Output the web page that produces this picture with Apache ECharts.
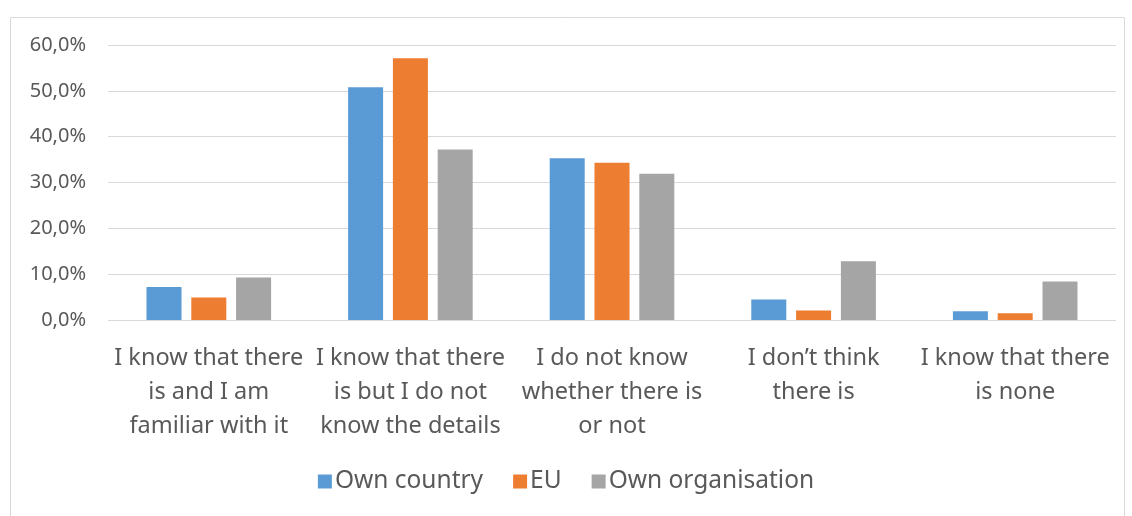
<!DOCTYPE html>
<html><head><meta charset="utf-8">
<script src="https://cdn.jsdelivr.net/npm/echarts@6/dist/echarts.min.js"></script>
<style>html,body{margin:0;padding:0;background:#fff}#c{width:1132px;height:516px}</style>
</head><body><div id="c"></div>
<script>
const categories = [
  "I know that there\nis and I am\nfamiliar with it",
  "I know that there\nis but I do not\nknow the details",
  "I do not know\nwhether there is\nor not",
  "I don\u2019t think\nthere is",
  "I know that there\nis none"
];
const ownCountry = [7.2, 50.8, 35.3, 4.5, 1.9];
const eu = [4.9, 57.1, 34.3, 2.1, 1.5];
const ownOrganisation = [9.3, 37.2, 31.9, 12.8, 8.4];
const seriesNames = ["Own country", "EU", "Own organisation"];
const colors = ["#5b9bd5", "#ed7d31", "#a5a5a5"];

const FONT = "Noto Sans";
const chart = echarts.init(document.getElementById('c'));
const mk = (name, data, color) => ({
  name, type: 'bar', data, barWidth: 35, barGap: '28%', barCategoryGap: '38%',
  itemStyle: { color }
});
chart.setOption({
  animation: false,
  textStyle: { fontFamily: FONT },
  graphic: [{
    type: 'rect', left: 8, top: 15, shape: { width: 1114, height: 510 },
    style: { fill: 'none', stroke: '#d9d9d9', lineWidth: 1 }, silent: true
  }],
  grid: { left: 108, right: 16, top: 45, bottom: 196 },
  legend: {
    bottom: 17, left: 'center', itemWidth: 14, itemHeight: 14, itemGap: 30,
    icon: 'rect',
    textStyle: { fontSize: 24.5, color: '#595959', fontFamily: FONT, padding: [0, 0, 0, -2] },
    data: seriesNames
  },
  xAxis: {
    type: 'category', data: categories,
    axisLine: { show: false }, axisTick: { show: false },
    axisLabel: { fontSize: 23.5, color: '#595959', lineHeight: 34, margin: 21, interval: 0, fontFamily: FONT }
  },
  yAxis: {
    type: 'value', min: 0, max: 60, interval: 10,
    axisLine: { show: false }, axisTick: { show: false },
    splitLine: { lineStyle: { color: '#d9d9d9', width: 1 } },
    axisLabel: { fontSize: 20, color: '#595959', margin: 22, fontFamily: FONT,
      formatter: v => v.toFixed(1).replace('.', ',') + '%' }
  },
  series: [
    mk(seriesNames[0], ownCountry, colors[0]),
    mk(seriesNames[1], eu, colors[1]),
    mk(seriesNames[2], ownOrganisation, colors[2])
  ]
});
</script></body></html>
